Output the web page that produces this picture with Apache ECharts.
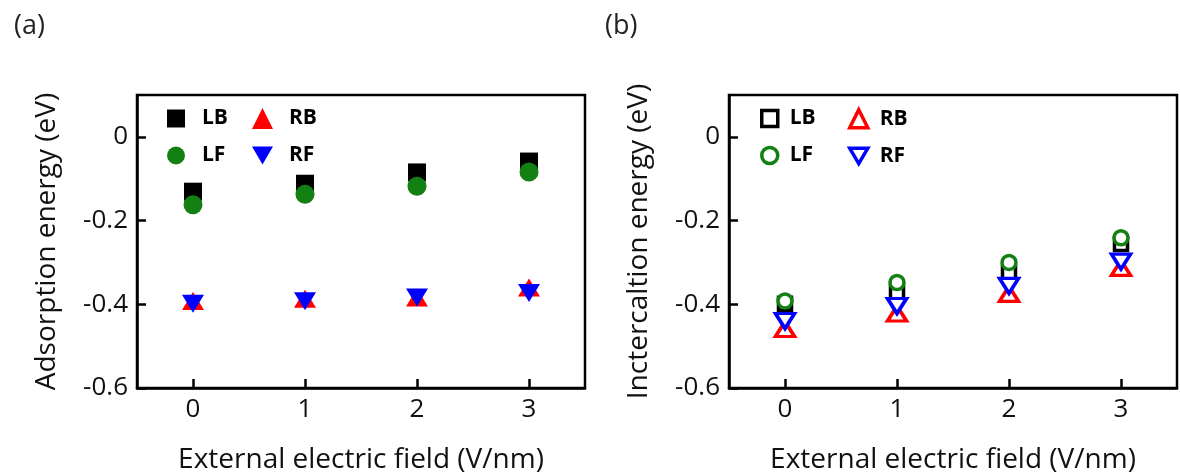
<!DOCTYPE html>
<html lang="en">
<head>
<meta charset="UTF-8">
<title>Energy vs external electric field</title>
<script src="https://cdn.jsdelivr.net/npm/echarts@6/dist/echarts.min.js"></script>
<style>
    html, body { margin: 0; padding: 0; background: #fff; }
    #container { width: 1180px; height: 475px; }
</style>
</head>
<body>
<div id="container"></div>
<script type="text/javascript">
    // field values (V/nm), shown as categories so points sit in the middle of each band
    const fields = ['0', '1', '2', '3'];

    // (a) adsorption energy (eV)
    const adsLB = [-0.131, -0.112, -0.085, -0.059];
    const adsLF = [-0.162, -0.137, -0.118, -0.084];
    const adsRB = [-0.392, -0.387, -0.384, -0.360];
    const adsRF = [-0.399, -0.393, -0.384, -0.373];

    // (b) intercalation energy (eV)
    const intLB = [-0.399, -0.371, -0.324, -0.256];
    const intLF = [-0.392, -0.348, -0.300, -0.241];
    const intRB = [-0.459, -0.422, -0.375, -0.313];
    const intRF = [-0.440, -0.404, -0.356, -0.298];

    // y axis range
    const yMin = -0.6;
    const yMax = 0.1;
    const yStep = 0.2;

    const FONT = 'Open Sans';
    // downward triangle for the legend (legend does not follow symbolRotate)
    const DOWN_TRI = 'path://M0,0 L20,0 L10,17 Z';

    const dom = document.getElementById('container');
    const myChart = echarts.init(dom, null, { renderer: 'canvas' });

    function xAxisFor(idx) {
        return {
            type: 'category',
            gridIndex: idx,
            data: fields,
            boundaryGap: true,
            name: 'External electric field (V/nm)',
            nameLocation: 'middle',
            nameGap: 58,
            nameTextStyle: { fontFamily: FONT, fontSize: 28, color: '#111' },
            axisLine: { show: true, onZero: false, lineStyle: { color: '#000', width: 2.5 } },
            axisTick: { show: true, inside: true, alignWithLabel: true, length: 9, lineStyle: { color: '#000', width: 2.5 } },
            axisLabel: { fontFamily: FONT, fontSize: 26, color: '#111', margin: 9 },
            splitLine: { show: false }
        };
    }

    function yAxisFor(idx, name) {
        return {
            type: 'value',
            gridIndex: idx,
            min: yMin,
            max: yMax,
            interval: yStep,
            name: name,
            nameLocation: 'middle',
            nameRotate: 90,
            nameGap: 76,
            nameTextStyle: { fontFamily: FONT, fontSize: 28, color: '#111' },
            axisLine: { show: true, onZero: false, lineStyle: { color: '#000', width: 2.5 } },
            axisTick: { show: true, inside: true, length: 9, lineStyle: { color: '#000', width: 2.5 } },
            axisLabel: { fontFamily: FONT, fontSize: 26, color: '#111', margin: 9, showMaxLabel: false },
            splitLine: { show: false }
        };
    }

    // filled markers for (a)
    function solid(name, data, symbol, size, color, rotate) {
        return {
            name: name, type: 'scatter', xAxisIndex: 0, yAxisIndex: 0,
            data: data, symbol: symbol, symbolSize: size, symbolRotate: rotate || 0,
            itemStyle: { color: color, opacity: 1 },
            emphasis: { disabled: true }
        };
    }

    // hollow markers for (b)
    function hollow(name, data, symbol, size, color, rotate) {
        return {
            name: name, type: 'scatter', xAxisIndex: 1, yAxisIndex: 1,
            data: data, symbol: symbol, symbolSize: size, symbolRotate: rotate || 0,
            itemStyle: { color: '#fff', borderColor: color, borderWidth: 3.5, opacity: 1 },
            emphasis: { disabled: true }
        };
    }

    function legendCol(items, left, iconSize, textGap, hollowIcons) {
        return {
            orient: 'vertical',
            left: left,
            top: 108,
            padding: 0,
            itemWidth: iconSize,
            itemHeight: iconSize,
            itemGap: 16,
            data: items,
            selectedMode: false,
            formatter: n => n.split(' ')[0],
            itemStyle: hollowIcons ? { borderWidth: 3.5 } : {},
            textStyle: {
                fontFamily: FONT, fontSize: 21, fontWeight: 'bold', color: '#000',
                lineHeight: 20, padding: [0, 0, 0, textGap]
            }
        };
    }

    const option = {
        animation: false,
        title: [
            { text: '(a)', left: 9, top: 8, textStyle: { fontFamily: FONT, fontSize: 27, fontWeight: 'normal', color: '#222' } },
            { text: '(b)', left: 600, top: 8, textStyle: { fontFamily: FONT, fontSize: 27, fontWeight: 'normal', color: '#222' } }
        ],
        grid: [
            { left: 137, top: 95, width: 448, height: 293, outerBoundsMode: 'none', show: true, borderColor: '#000', borderWidth: 2.5 },
            { left: 729, top: 95, width: 448, height: 293, outerBoundsMode: 'none', show: true, borderColor: '#000', borderWidth: 2.5 }
        ],
        xAxis: [xAxisFor(0), xAxisFor(1)],
        yAxis: [yAxisFor(0, 'Adsorption energy (eV)'), yAxisFor(1, 'Inctercaltion energy (eV)')],
        legend: [
            legendCol(['LB', 'LF'], 167, 18, 12, false),
            legendCol(['RB', { name: 'RF', icon: DOWN_TRI }], 252, 21, 11, false),
            legendCol(['LB (b)', 'LF (b)'], 760, 16, 7, true),
            legendCol(['RB (b)', { name: 'RF (b)', icon: DOWN_TRI }], 848, 18, 7, true)
        ],
        series: [
            solid('LB', adsLB, 'rect', 18, '#000000'),
            solid('RB', adsRB, 'triangle', [22, 18], '#ff0000'),
            solid('LF', adsLF, 'circle', 19, '#138013'),
            solid('RF', adsRF, 'triangle', [22, 18], '#0000ff', 180),
            hollow('LB (b)', intLB, 'rect', 13, '#000000'),
            hollow('RB (b)', intRB, 'triangle', [19, 15], '#ff0000'),
            hollow('LF (b)', intLF, 'circle', 14, '#138013'),
            hollow('RF (b)', intRF, 'triangle', [19, 15], '#0000ff', 180)
        ]
    };

    myChart.setOption(option);
    window.addEventListener('resize', myChart.resize);
</script>
</body>
</html>
